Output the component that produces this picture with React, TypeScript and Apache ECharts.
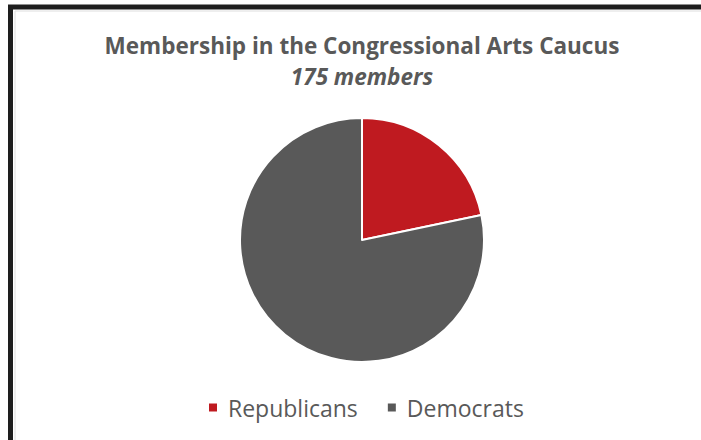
import React, { useEffect, useRef } from "react";
import * as echarts from "echarts";

const categories = ["Republicans", "Democrats"];
const members = [38, 137];
const colors = ["#BF1A20", "#595959"];
const titleText = "Membership in the Congressional Arts Caucus";
const subtitleText = "175 members";

export default function App() {
  const ref = useRef<HTMLDivElement>(null);
  useEffect(() => {
    if (!ref.current) return;
    const chart = echarts.init(ref.current, undefined, { renderer: "svg" });
    chart.setOption({
      animation: false,
      backgroundColor: "#ffffff",
      title: {
        text: titleText,
        subtext: subtitleText,
        left: 362,
        textAlign: "center",
        top: 31,
        padding: 0,
        itemGap: 3,
        textStyle: {
          fontFamily: "Open Sans",
          fontWeight: "bold",
          fontSize: 22.5,
          lineHeight: 28,
          color: "#595959",
        },
        subtextStyle: {
          fontFamily: "Open Sans",
          fontStyle: "italic",
          fontWeight: "bold",
          fontSize: 22.5,
          lineHeight: 28,
          color: "#595959",
        },
      },
      legend: {
        data: categories,
        left: 207,
        top: 396,
        padding: 0,
        icon: "rect",
        itemWidth: 10,
        itemHeight: 10,
        itemGap: 28,
        textStyle: {
          fontFamily: "Open Sans",
          fontSize: 23,
          lineHeight: 22,
          color: "#595959",
          padding: [0, 0, 0, 5],
        },
      },
      graphic: [
        {
          type: "rect",
          shape: { x: 10.5, y: 7, width: 900, height: 600 },
          style: { fill: "none", stroke: "#1e1e1e", lineWidth: 5 },
          silent: true,
        },
        {
          type: "rect",
          shape: { x: 15, y: 11, width: 900, height: 600 },
          style: { fill: "none", stroke: "#dedede", lineWidth: 1 },
          silent: true,
        },
      ],
      series: [
        {
          type: "pie",
          center: [362, 240],
          radius: 122,
          startAngle: 90,
          clockwise: true,
          label: { show: false },
          labelLine: { show: false },
          emphasis: { disabled: true },
          itemStyle: { borderColor: "#ffffff", borderWidth: 2 },
          data: categories.map((name, i) => ({
            name,
            value: members[i],
            itemStyle: { color: colors[i] },
          })),
        },
      ],
    });
    return () => chart.dispose();
  }, []);
  return (
    <div
      ref={ref}
      style={{ position: "absolute", left: 0, top: 0, width: 701, height: 440 }}
    />
  );
}
